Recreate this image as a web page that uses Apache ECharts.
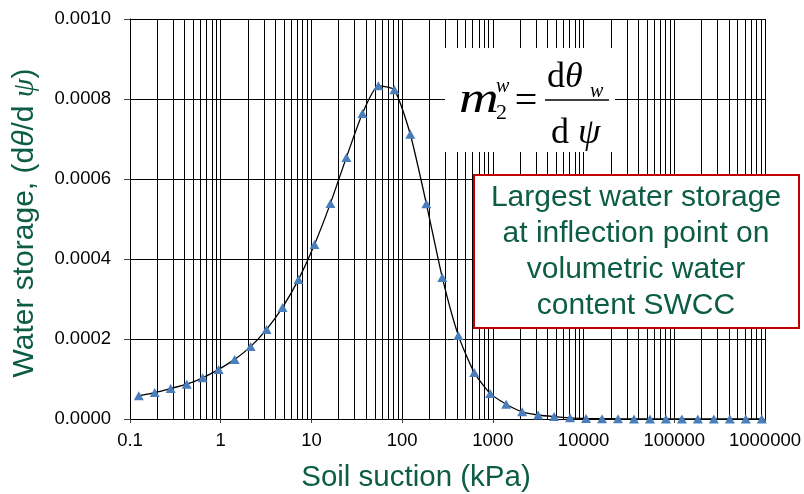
<!DOCTYPE html>
<html>
<head>
<meta charset="utf-8">
<script src="https://cdn.jsdelivr.net/npm/echarts@6/dist/echarts.min.js"></script>
<style>
html,body{margin:0;padding:0;background:#fff;}
#chart{width:804px;height:494px;}
</style>
</head>
<body>
<div id="chart"></div>
<script>
// Soil suction (kPa)
var suction = [0.125, 0.1875, 0.281, 0.422, 0.633, 0.949, 1.424, 2.136, 3.204, 4.806,
  7.21, 10.81, 16.2, 24.3, 36.5, 54.7, 82.1, 123, 185, 277,
  416, 624, 935, 1403, 2105, 3157, 4736, 7104, 10656, 15984,
  23976, 35964, 53946, 80919, 121378, 182067, 273100, 409650, 614475, 921713];
// Water storage dθ/dψ
var storage = [0.000058, 0.000066, 0.000076, 0.000087, 0.000103, 0.000124, 0.000149, 0.000181, 0.000224, 0.000279,
  0.000349, 0.000436, 0.000539, 0.000654, 0.000764, 0.000833, 0.000823, 0.000712, 0.000538, 0.000354,
  0.000209, 0.000116, 0.000064, 0.000037, 0.000018, 0.000010, 0.000006, 0.000003, 0.0000015, 0.0000008,
  0.0000005, 0.0000003, 0.0000002, 0.0000001, 0.0000001, 0, 0, 0, 0, 0];
var yTicks = [0, 0.0002, 0.0004, 0.0006, 0.0008, 0.0010];
var xTicks = [0.1, 1, 10, 100, 1000, 10000, 100000, 1000000];
var boxLines = ['Largest water storage', 'at inflection point on', 'volumetric water', 'content SWCC'];

var green = '#0D5C45';
var points = suction.map(function (x, i) { return [x, storage[i]]; });

// minor vertical gridlines at 2..9 x each decade
var minor = [];
for (var d = 0; d < xTicks.length - 1; d++) {
  for (var k = 2; k <= 9; k++) {
    minor.push({ xAxis: +(k * xTicks[d]).toPrecision(6) });
  }
}

var chart = echarts.init(document.getElementById('chart'), null, { renderer: 'canvas' });
chart.setOption({
  animation: false,
  backgroundColor: '#fff',
  grid: { left: 130, right: 38, top: 19, bottom: 75 },
  xAxis: {
    type: 'log', logBase: 10, min: xTicks[0], max: xTicks[xTicks.length - 1],
    axisLine: { show: true, lineStyle: { color: '#000', width: 1 } },
    axisTick: { show: true, length: 4, lineStyle: { color: '#444' } },
    splitLine: { show: true, lineStyle: { color: '#000', width: 1 } },
    axisLabel: {
      color: '#000', fontSize: 18.5, fontFamily: 'Liberation Sans, Arial', margin: 12,
      interval: 0, showMinLabel: true, showMaxLabel: true,
      formatter: function (v) { return String(+(+v).toPrecision(6)); }
    }
  },
  yAxis: {
    type: 'value', min: yTicks[0], max: yTicks[yTicks.length - 1], interval: 0.0002,
    axisLine: { show: true, lineStyle: { color: '#000', width: 1 } },
    axisTick: { show: true, length: 6, lineStyle: { color: '#444' } },
    splitLine: { show: true, lineStyle: { color: '#000', width: 1 } },
    axisLabel: {
      color: '#000', fontSize: 18.5, fontFamily: 'Liberation Sans, Arial', margin: 19,
      formatter: function (v) { return (+v).toFixed(4); }
    }
  },
  series: [
    {
      name: 'minorGrid', type: 'line', data: [], z: 1, silent: true,
      markLine: {
        z: 1, silent: true, symbol: ['none', 'none'], animation: false,
        label: { show: false },
        lineStyle: { color: '#000', width: 1, type: 'solid' },
        emphasis: { disabled: true },
        data: minor
      }
    },
    {
      name: 'storage', type: 'line', data: points, z: 3,
      smooth: 0.2,
      symbol: 'triangle', symbolSize: [10, 9],
      itemStyle: { color: '#4A7EBB' },
      lineStyle: { color: '#000', width: 1.3 }
    }
  ],
  graphic: [
    // y-axis title
    {
      type: 'text', x: 25, y: 223, rotation: Math.PI / 2, z: 100,
      style: {
        text: 'Water storage, (d{i|θ}/d {s|ψ})',
        fill: green, font: '30px "Liberation Sans", Arial',
        textAlign: 'center', textVerticalAlign: 'middle',
        rich: {
          i: { fill: green, font: 'italic 30px "Liberation Sans", Arial' },
          s: { fill: green, font: 'italic 30px "Liberation Serif", serif' }
        }
      }
    },
    // x-axis title
    {
      type: 'text', x: 416, y: 478, z: 100,
      style: {
        text: 'Soil suction (kPa)', fill: green, font: '29.5px "Liberation Sans", Arial',
        textAlign: 'center', textVerticalAlign: 'middle'
      }
    },
    // equation background
    { type: 'rect', z: 100, shape: { x: 445, y: 48, width: 170, height: 104 }, style: { fill: '#fff' } },
    { type: 'text', z: 101, x: 459, y: 100, scaleX: 1.25, style: { text: 'm', font: 'italic 44px "Liberation Serif", serif', fill: '#000', textAlign: 'left', textVerticalAlign: 'middle' } },
    { type: 'text', z: 101, x: 496, y: 87, style: { text: 'w', font: 'italic 20px "Liberation Serif", serif', fill: '#000', textAlign: 'left', textVerticalAlign: 'middle' } },
    { type: 'text', z: 101, x: 496, y: 113, style: { text: '2', font: '22px "Liberation Serif", serif', fill: '#000', textAlign: 'left', textVerticalAlign: 'middle' } },
    { type: 'text', z: 101, x: 526, y: 102, style: { text: '=', font: '40px "Liberation Serif", serif', fill: '#000', textAlign: 'center', textVerticalAlign: 'middle' } },
    { type: 'line', z: 101, shape: { x1: 545, y1: 100, x2: 609, y2: 100 }, style: { stroke: '#000', lineWidth: 1.5 } },
    { type: 'text', z: 101, x: 547, y: 78, style: { text: 'd{i|θ}', font: '36px "Liberation Serif", serif', fill: '#000', textAlign: 'left', textVerticalAlign: 'middle', rich: { i: { font: 'italic 36px "Liberation Serif", serif', fill: '#000' } } } },
    { type: 'text', z: 101, x: 590, y: 92, style: { text: 'w', font: 'italic 20px "Liberation Serif", serif', fill: '#000', textAlign: 'left', textVerticalAlign: 'middle' } },
    { type: 'text', z: 101, x: 551, y: 134, style: { text: 'd {i|ψ}', font: '36px "Liberation Serif", serif', fill: '#000', textAlign: 'left', textVerticalAlign: 'middle', rich: { i: { font: 'italic 36px "Liberation Serif", serif', fill: '#000' } } } },
    // red annotation box
    { type: 'rect', z: 100, shape: { x: 474, y: 175, width: 325, height: 153 }, style: { fill: '#fff', stroke: '#C00000', lineWidth: 2 } },
    {
      type: 'text', z: 101, x: 636, y: 252,
      style: {
        text: boxLines.join('\n'), fill: green, font: '30px "Liberation Sans", Arial',
        lineHeight: 36, textAlign: 'center', textVerticalAlign: 'middle'
      }
    }
  ]
});
</script>
</body>
</html>
